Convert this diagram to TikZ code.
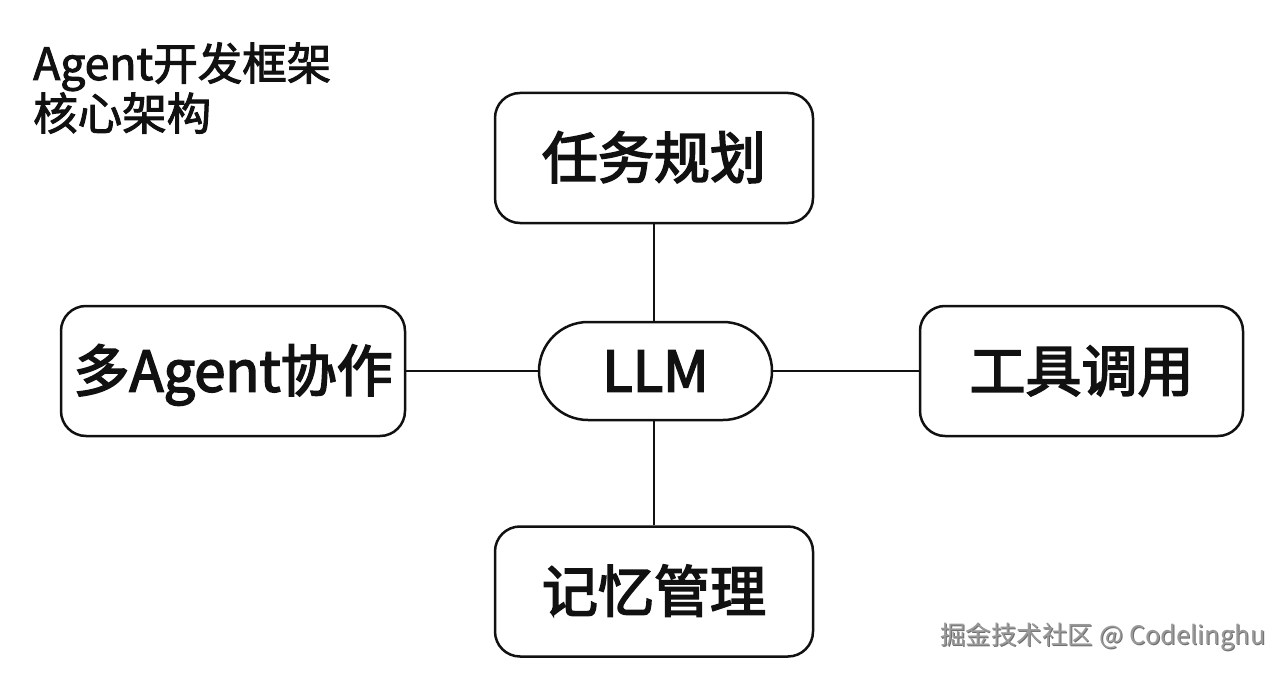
\documentclass[tikz,border=0pt]{standalone}
\usepackage{fontspec}
\setmainfont{Noto Sans CJK SC}
\newfontfamily\cjk{Noto Sans CJK SC}
\newfontfamily\cjkmed{Noto Sans CJK SC}[FakeBold=3]
\newfontfamily\cjktitle{Noto Sans CJK SC}[FakeBold=2.2]
\definecolor{ink}{HTML}{111111}
\definecolor{wm}{HTML}{9A9A9A}
\definecolor{wmshade}{HTML}{6E6E6E}
\tikzset{
  x=1pt, y=-1pt,
  boxnode/.style={draw=ink, line width=2.5pt, rounded corners=25pt, fill=white,
    minimum width=#1, minimum height=130pt, inner sep=0pt,
    font=\cjkmed\fontsize{56}{60}\selectfont, text=ink,
    text height=45pt, text depth=4pt},
  llmnode/.style={draw=ink, line width=2.5pt, rounded corners=49pt, fill=white,
    minimum width=233pt, minimum height=98pt, inner sep=0pt,
    font=\cjkmed\fontsize{56}{60}\selectfont, text=ink,
    text height=41pt, text depth=0pt},
  conn/.style={draw=ink, line width=2.5pt},
  titletext/.style={anchor=base west, inner sep=0pt, text=ink,
    font=\cjktitle\fontsize{44.5}{48}\selectfont},
  wmtext/.style={anchor=east, inner sep=0pt, text=wm,
    font=\cjk\fontsize{25.5}{28}\selectfont}
}
\begin{document}
\begin{tikzpicture}
\useasboundingbox[fill=white] (0,0) rectangle (1286,674);
\node[boxnode=318pt] (plan) at (654,158) {任务规划};
\node[boxnode=344pt] (multi) at (233,371) {多Agent协作};
\node[boxnode=323pt] (tool) at (1081.5,371) {工具调用};
\node[boxnode=318pt] (mem) at (654,591.5) {记忆管理};
\node[llmnode] (llm) at (655.5,371) {LLM};
\draw[conn] (plan.south) -- (plan.south |- llm.north);
\draw[conn] (mem.north) -- (mem.north |- llm.south);
\draw[conn] (multi.east) -- (llm.west);
\draw[conn] (llm.east) -- (tool.west);
\node[titletext] (t1) at (33,80) {Agent开发框架};
\node[titletext] (t2) at (33,130) {核心架构};
\node[wmtext, text=wmshade] (wmshadow) at (1267,638) {掘金技术社区 @ Codelinghu};
\node[wmtext] (wmark) at (1266,637) {掘金技术社区 @ Codelinghu};
\end{tikzpicture}
\end{document}
